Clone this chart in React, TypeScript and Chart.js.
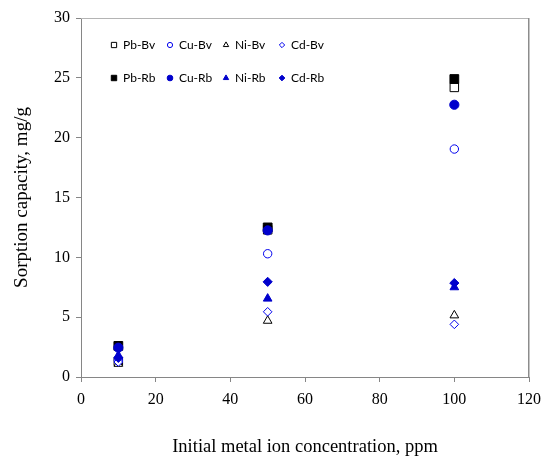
import React, { useEffect, useRef } from 'react';
import { Chart, registerables } from 'chart.js';

Chart.register(...registerables);

// ---- data ----
const concentrations = [10, 50, 100];
const seriesNames = ['Pb-Bv', 'Cu-Bv', 'Ni-Bv', 'Cd-Bv', 'Pb-Rb', 'Cu-Rb', 'Ni-Rb', 'Cd-Rb'];
const pbBv = [1.3, 12.3, 24.2];
const cuBv = [1.4, 10.3, 19.05];
const niBv = [1.1, 4.7, 5.15];
const cdBv = [1.25, 5.45, 4.4];
const pbRb = [2.6, 12.5, 24.9];
const cuRb = [2.45, 12.25, 22.75];
const niRb = [1.8, 6.55, 7.5];
const cdRb = [1.6, 7.95, 7.85];
const xTickStep = 20;
const yTickStep = 5;
const xMax = 120;
const yMax = 30;
const xTitle = 'Initial metal ion concentration, ppm';
const yTitle = 'Sorption capacity, mg/g';

const seriesValues = [pbBv, cuBv, niBv, cdBv, pbRb, cuRb, niRb, cdRb];

const BLACK = '#000000';
const BLUE_HOLLOW = '#0000EE';
const BLUE_FILL = '#0000CC';

const styles = [
  { shape: 'rect', filled: false, color: BLACK, r: 6 },
  { shape: 'circle', filled: false, color: BLUE_HOLLOW, r: 4.2 },
  { shape: 'triangle', filled: false, color: BLACK, r: 5 },
  { shape: 'rectRot', filled: false, color: BLUE_HOLLOW, r: 4.3 },
  { shape: 'rect', filled: true, color: BLACK, r: 6.2 },
  { shape: 'circle', filled: true, color: BLUE_FILL, r: 4.6 },
  { shape: 'triangle', filled: true, color: BLUE_FILL, r: 5 },
  { shape: 'rectRot', filled: true, color: BLUE_FILL, r: 4.6 },
];

function drawMarker(ctx: CanvasRenderingContext2D, shape: string, x: number, y: number, r: number, filled: boolean, color: string) {
  ctx.save();
  ctx.beginPath();
  if (shape === 'rect') {
    const s = r * Math.SQRT1_2;
    ctx.rect(x - s, y - s, 2 * s, 2 * s);
  } else if (shape === 'circle') {
    ctx.arc(x, y, r, 0, Math.PI * 2);
  } else if (shape === 'triangle') {
    let a = 0;
    ctx.moveTo(x + Math.sin(a) * r, y - Math.cos(a) * r);
    a += (2 * Math.PI) / 3;
    ctx.lineTo(x + Math.sin(a) * r, y - Math.cos(a) * r);
    a += (2 * Math.PI) / 3;
    ctx.lineTo(x + Math.sin(a) * r, y - Math.cos(a) * r);
  } else {
    ctx.moveTo(x - r, y);
    ctx.lineTo(x, y - r);
    ctx.lineTo(x + r, y);
    ctx.lineTo(x, y + r);
  }
  ctx.closePath();
  ctx.fillStyle = filled ? color : '#ffffff';
  ctx.fill();
  ctx.lineWidth = 1;
  ctx.strokeStyle = color;
  ctx.stroke();
  ctx.restore();
}

const innerLegend = {
  id: 'innerLegend',
  afterDraw(chart: any) {
    const { ctx, chartArea } = chart;
    const { left, top, right } = chartArea;
    // plot area border (top + right)
    ctx.save();
    ctx.strokeStyle = '#b4b4b4';
    ctx.lineWidth = 1;
    ctx.beginPath();
    ctx.moveTo(left, top + 0.5);
    ctx.lineTo(right, top + 0.5);
    ctx.stroke();
    ctx.strokeStyle = '#8c8c8c';
    ctx.lineWidth = 1.5;
    ctx.beginPath();
    ctx.moveTo(right - 0.25, top);
    ctx.lineTo(right - 0.25, chartArea.bottom);
    ctx.stroke();
    ctx.restore();

    ctx.save();
    ctx.font = '12px Lato';
    ctx.fillStyle = '#000000';
    ctx.textBaseline = 'middle';
    ctx.textAlign = 'left';
    seriesNames.forEach((name, i) => {
      const col = i % 4;
      const row = Math.floor(i / 4);
      const mx = left + 33 + col * 56;
      const my = top + 27 + row * 33;
      const st = styles[i];
      drawMarker(ctx, st.shape, mx, my, st.r * 0.62, st.filled, st.color);
      ctx.fillText(name, mx + 9, my + 0.5);
    });
    ctx.restore();
  },
};

export default function App() {
  const canvasRef = useRef<HTMLCanvasElement | null>(null);

  useEffect(() => {
    const canvas = canvasRef.current;
    if (!canvas) return;
    const datasets = seriesNames.map((name, i) => ({
      label: name,
      data: concentrations.map((x, j) => ({ x, y: seriesValues[i][j] })),
      showLine: false,
      pointStyle: styles[i].shape,
      pointRadius: styles[i].r,
      pointHoverRadius: styles[i].r,
      pointBorderWidth: 1,
      borderColor: styles[i].color,
      backgroundColor: styles[i].filled ? styles[i].color : '#ffffff',
      pointBackgroundColor: styles[i].filled ? styles[i].color : '#ffffff',
      pointBorderColor: styles[i].color,
      order: seriesNames.length - i,
    }));

    const serif = 'Liberation Serif';
    const chart = new Chart(canvas, {
      type: 'scatter',
      data: { datasets },
      plugins: [innerLegend],
      options: {
        animation: false,
        responsive: false,
        events: [],
        layout: { padding: { top: 18, right: 14, left: 0, bottom: 0 } },
        plugins: {
          legend: { display: false },
          tooltip: { enabled: false },
        },
        scales: {
          x: {
            type: 'linear',
            min: 0,
            max: xMax,
            afterFit: (scale: any) => {
              scale.height = 82;
              scale.paddingLeft = 0;
              scale.paddingRight = 0;
            },
            ticks: {
              stepSize: xTickStep,
              color: '#000000',
              padding: 8,
              font: { family: serif, size: 16 },
            },
            grid: { drawOnChartArea: false, drawTicks: true, tickLength: 5, color: '#868686' },
            border: { display: true, color: '#868686', width: 1 },
            title: {
              display: true,
              text: xTitle,
              color: '#000000',
              font: { family: serif, size: 18.5 },
              padding: { top: 0, bottom: 1 },
            },
          },
          y: {
            type: 'linear',
            min: 0,
            max: yMax,
            afterFit: (scale: any) => {
              scale.width = 81;
              scale.paddingTop = 0;
              scale.paddingBottom = 0;
            },
            ticks: {
              stepSize: yTickStep,
              color: '#000000',
              padding: 6,
              font: { family: serif, size: 16 },
            },
            grid: { drawOnChartArea: false, drawTicks: true, tickLength: 5, color: '#868686' },
            border: { display: true, color: '#868686', width: 1 },
            title: {
              display: true,
              text: yTitle,
              color: '#000000',
              font: { family: serif, size: 19 },
              padding: { top: 11, bottom: 0 },
            },
          },
        },
      },
    } as any);
    return () => chart.destroy();
  }, []);

  return (
    <div style={{ position: 'fixed', left: 0, top: 0, width: 543, height: 459, background: '#ffffff' }}>
      <canvas ref={canvasRef} width={543} height={459} />
    </div>
  );
}
